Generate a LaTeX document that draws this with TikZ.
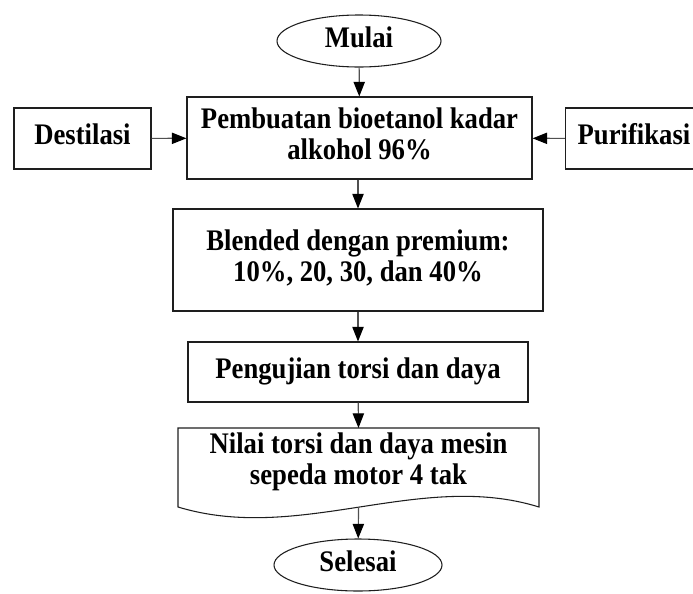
\documentclass[tikz,border=0pt]{standalone}
\usepackage{fontspec}
\setmainfont{Liberation Serif}
\usepackage{xcolor}
\usepackage{graphicx}
\usepackage{tikz}
\usetikzlibrary{
  shapes.geometric,
  arrows.meta,
  positioning
}
\definecolor{LineGray}{RGB}{30, 30, 30}
\definecolor{ArrowGray}{RGB}{80, 80, 80}
\newcommand{\teks}[1]{\scalebox{1}[1.12]{\begin{tabular}{@{}c@{}}#1\end{tabular}}}
\tikzset{
    prosesbox/.style={rectangle, draw=LineGray, line width=0.8pt, align=center, inner sep=2pt},
    terminal/.style={ellipse, draw=LineGray, line width=0.8pt, inner sep=1pt},
    panah/.style={draw=ArrowGray, line width=0.9pt, -{Triangle[length=11pt, width=8.5pt, color=black]}}
}

\begin{document}
\begin{tikzpicture}[x=0.75pt, y=-0.75pt, font=\fontsize{20}{20.5}\selectfont\bfseries]
            \useasboundingbox (0,0) rectangle (693,593);
            \node[terminal, minimum width=123pt, minimum height=39pt] (mulai) at (359,41) {\teks{Mulai}};
            \node[prosesbox, minimum width=258.75pt, minimum height=61.5pt] (bioetanol) at (359.5,138) {\teks{Pembuatan bioetanol kadar\\alkohol 96\%}};
            \node[prosesbox, minimum width=102.75pt, minimum height=45.75pt] (destilasi) at (82.5,138.5) {\teks{Destilasi}};
            \node[prosesbox, minimum width=102.75pt, minimum height=45.75pt] (purifikasi) at (634,138.5) {\teks{Purifikasi}};
            \node[prosesbox, minimum width=277.5pt, minimum height=76.5pt] (blended) at (358,260) {\teks{Blended dengan premium:\\10\%, 20, 30, dan 40\%}};
            \node[prosesbox, minimum width=255pt, minimum height=45pt] (pengujian) at (358,372) {\teks{Pengujian torsi dan daya}};
            % dokumen hasil
            \draw[LineGray, line width=0.8pt] (178,428) -- (539,428) -- (539,507)
                .. controls (420,470) and (300,544) .. (178,507) -- cycle;
            \node[align=center, inner sep=0pt] (nilai) at (358.5,463) {\teks{Nilai torsi dan daya mesin\\sepeda motor 4 tak}};
            \coordinate (nilaibawah) at (358.5,507);
            \coordinate (nilaiatas) at (358.5,428);
            \node[terminal, minimum width=126pt, minimum height=39pt] (selesai) at (358,565) {\teks{Selesai}};

            \draw[panah] (mulai) -- (bioetanol);
            \draw[panah] (destilasi) -- (bioetanol);
            \draw[panah] (purifikasi) -- (bioetanol);
            \draw[panah] (bioetanol.south -| blended.north) -- (blended);
            \draw[panah] (blended) -- (pengujian);
            \draw[panah] (pengujian) -- (nilaiatas);
            \draw[panah] (nilaibawah) -- (selesai);
        \end{tikzpicture}
\end{document}
